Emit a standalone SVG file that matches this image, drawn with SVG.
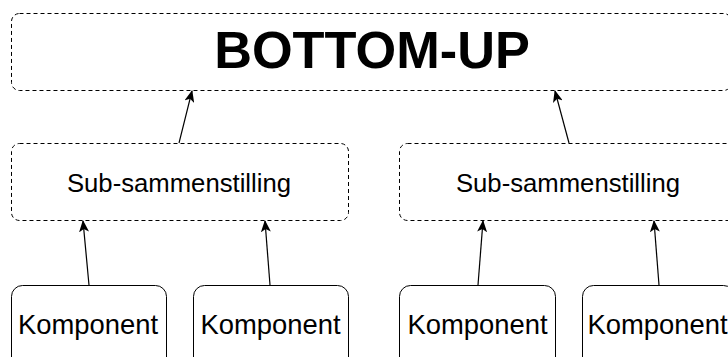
<svg xmlns="http://www.w3.org/2000/svg" width="728" height="357" viewBox="0 0 728 357">
  <style>
    .dash { fill: #ffffff; stroke: #000000; stroke-width: 1; stroke-dasharray: 4 3; }
    .solid { fill: #ffffff; stroke: #000000; stroke-width: 1; }
    .lbl { font-family: "Liberation Sans", Arial, sans-serif; fill: #000000; text-anchor: middle; }
    .title { font-size: 52.3px; font-weight: bold; }
    .sub { font-size: 25.7px; }
    .comp { font-size: 27.4px; }
    .edge { stroke: #000000; stroke-width: 1.2; fill: none; marker-end: url(#arrow); }
  </style>
  <defs>
    <marker id="arrow" viewBox="0 0 12 10" refX="11" refY="5" markerWidth="12" markerHeight="10" markerUnits="userSpaceOnUse" orient="auto">
      <path d="M0,0 L12,5 L0,10 L3,5 z" fill="#000000"/>
    </marker>
  </defs>
  <rect width="728" height="357" fill="#ffffff"/>

  <g id="bottom-up">
    <rect class="dash" x="11.5" y="13.5" width="720" height="77" rx="8"/>
    <text class="lbl title" x="372" y="68">BOTTOM-UP</text>
  </g>

  <g id="sub-left">
    <rect class="dash" x="11.5" y="143.5" width="337" height="77" rx="8"/>
    <text class="lbl sub" x="179" y="192">Sub-sammenstilling</text>
  </g>

  <g id="sub-right">
    <rect class="dash" x="399.5" y="143.5" width="337" height="77" rx="8"/>
    <text class="lbl sub" x="568" y="192">Sub-sammenstilling</text>
  </g>

  <g id="comp-1">
    <rect class="solid" x="11.5" y="285.5" width="155" height="90" rx="11"/>
    <text class="lbl comp" x="88" y="334">Komponent</text>
  </g>

  <g id="comp-2">
    <rect class="solid" x="193.5" y="285.5" width="155" height="90" rx="11"/>
    <text class="lbl comp" x="270.5" y="334">Komponent</text>
  </g>

  <g id="comp-3">
    <rect class="solid" x="399.5" y="285.5" width="156" height="90" rx="11"/>
    <text class="lbl comp" x="477.5" y="334">Komponent</text>
  </g>

  <g id="comp-4">
    <rect class="solid" x="582.5" y="285.5" width="152" height="90" rx="11"/>
    <text class="lbl comp" x="657.5" y="334">Komponent</text>
  </g>

  <g id="connectors">
    <line class="edge" x1="179" y1="143" x2="192" y2="91"/>
    <line class="edge" x1="569" y1="143" x2="555" y2="91"/>
    <line class="edge" x1="89" y1="285" x2="83" y2="221"/>
    <line class="edge" x1="270" y1="285" x2="265" y2="221"/>
    <line class="edge" x1="478" y1="285" x2="483" y2="221"/>
    <line class="edge" x1="659" y1="285" x2="654" y2="221"/>
  </g>
</svg>
